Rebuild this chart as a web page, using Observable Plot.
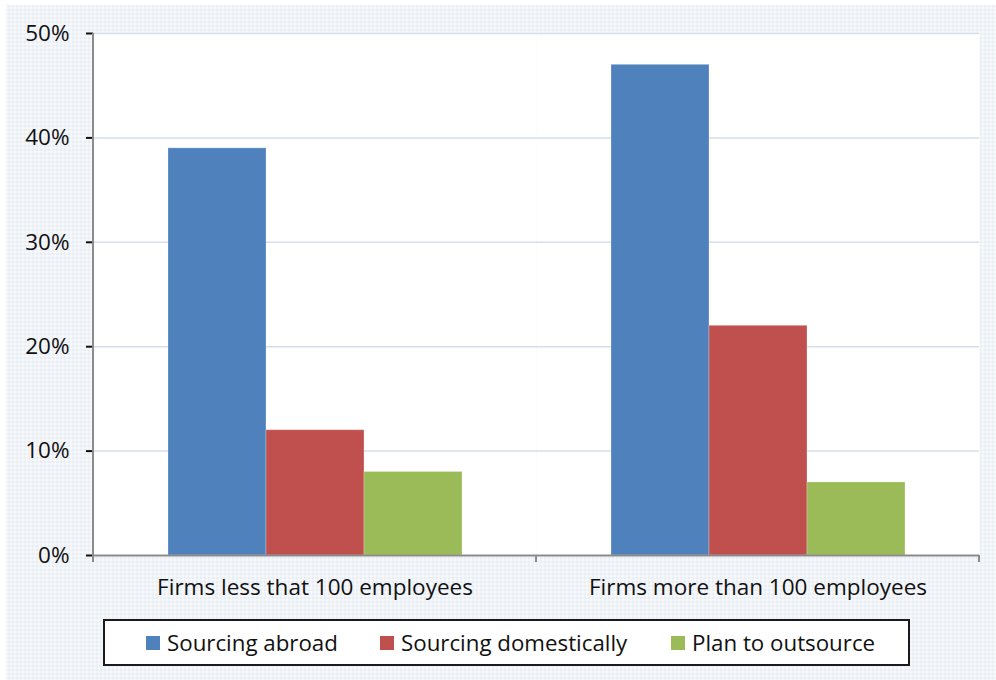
<!DOCTYPE html>
<html>
<head>
<meta charset="utf-8">
<script src="https://cdn.jsdelivr.net/npm/d3@7"></script>
<script src="https://cdn.jsdelivr.net/npm/@observablehq/plot@0.6"></script>
<style>
  html, body { margin: 0; padding: 0; background: #ffffff; }
  #wrap {
    position: absolute; left: 6px; top: 5px; width: 990px; height: 675px;
    background-color: #e9eef4;
    background-image:
      linear-gradient(90deg, rgba(255,255,255,0.35) 50%, transparent 50%),
      linear-gradient(0deg, rgba(255,255,255,0.35) 50%, transparent 50%);
    background-size: 4px 4px;
    font-family: "Open Sans", sans-serif;
  }
  #wrap svg text { font-size: 22.5px; fill: #111; }
  #legend {
    position: absolute; left: 97px; top: 614px; width: 803px; height: 43px;
    background: #ffffff; border: 2px solid #1a1a1a;
    font-size: 22.3px; color: #111;
  }
  .item { position: absolute; top: 0; height: 43px; display: flex; align-items: center; }
  .sw { width: 14px; height: 14px; margin-right: 7px; }
</style>
</head>
<body>
<div id="wrap"></div>
<script>
const categories = ["Firms less that 100 employees", "Firms more than 100 employees"];
const series = ["Sourcing abroad", "Sourcing domestically", "Plan to outsource"];
const colors = ["#4f81bd", "#c0504d", "#9bbb59"];
const sourcingAbroad = [0.39, 0.47];
const sourcingDomestically = [0.12, 0.22];
const planToOutsource = [0.08, 0.07];
const yTicks = [0, 0.1, 0.2, 0.3, 0.4, 0.5];

const seriesValues = [sourcingAbroad, sourcingDomestically, planToOutsource];
const data = [];
categories.forEach((c, i) => series.forEach((s, j) => data.push({category: c, series: s, value: seriesValues[j][i]})));

const plot = Plot.plot({
  width: 990,
  height: 600,
  marginLeft: 87,
  marginRight: 17,
  marginTop: 28,
  marginBottom: 50,
  style: {background: "transparent", fontFamily: "'Open Sans', sans-serif", fontSize: "20px", color: "#111"},
  fx: {domain: categories, padding: 0, label: null, axis: "bottom", tickSize: 0, tickPadding: 24},
  x: {domain: series, paddingInner: 0, paddingOuter: 0.75, axis: null},
  y: {domain: [0, 0.5], ticks: yTicks, tickFormat: d3.format(".0%"), label: null, tickSize: 7, tickPadding: 17},
  color: {domain: series, range: colors},
  marks: [
    Plot.frame({fill: "#ffffff", stroke: null}),
    Plot.gridY(yTicks.slice(1), {stroke: "#d5deea", strokeOpacity: 1, strokeWidth: 1.5}),
    Plot.barY(data, {fx: "category", x: "series", y: "value", fill: "series", stroke: "#ffffff", strokeOpacity: 0.25, strokeWidth: 1}),
    Plot.ruleY([0], {stroke: "#8c8c8c", strokeWidth: 2})
  ]
});

document.getElementById("wrap").appendChild(plot);

// y axis line and category boundary ticks using the plot's own scales
const svg = d3.select(plot.tagName.toLowerCase() === "svg" ? plot : plot.querySelector("svg"));
const ys = plot.scale("y");
const fxs = plot.scale("fx");
const fxBand = d3.scaleBand().domain(fxs.domain).range(fxs.range).padding(0);
const yScale = d3.scaleLinear().domain(ys.domain).range(ys.range);
const y0 = yScale(0), y1 = yScale(0.5);
svg.append("line").attr("x1", fxBand.range()[0]).attr("x2", fxBand.range()[0]).attr("y1", y0).attr("y2", y1)
  .attr("stroke", "#8c8c8c").attr("stroke-width", 2);
const bounds = fxBand.domain().map(d => fxBand(d)).concat([fxBand.range()[1]]);
svg.selectAll(null).data(bounds).join("line")
  .attr("x1", d => d).attr("x2", d => d).attr("y1", y0).attr("y2", y0 + 7)
  .attr("stroke", "#8c8c8c").attr("stroke-width", 2);
svg.selectAll("[aria-label='y-axis tick']").attr("stroke", "#8c8c8c").attr("stroke-width", 2);

// legend
const legend = document.createElement("div");
legend.id = "legend";
const lefts = [41, 275, 566];
series.forEach((s, i) => {
  const it = document.createElement("div");
  it.className = "item";
  it.style.left = lefts[i] + "px";
  it.innerHTML = `<span class="sw" style="background:${colors[i]}"></span><span>${s}</span>`;
  legend.appendChild(it);
});
document.getElementById("wrap").appendChild(legend);
</script>
</body>
</html>
